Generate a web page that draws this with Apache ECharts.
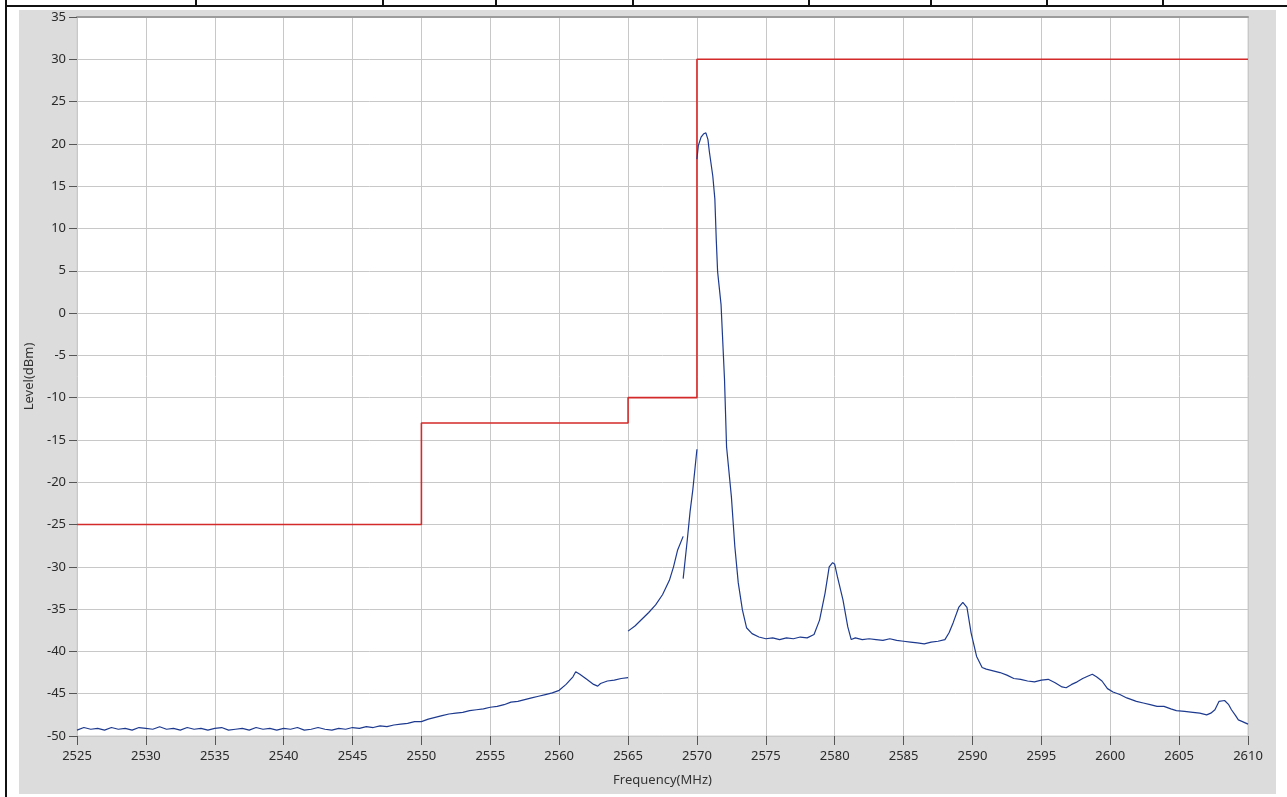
<!DOCTYPE html>
<html>
<head>
<meta charset="utf-8">
<script src="https://cdn.jsdelivr.net/npm/echarts@6/dist/echarts.min.js"></script>
<style>
  html, body { margin: 0; padding: 0; background: #ffffff; }
  #wrap { position: relative; width: 1287px; height: 797px; overflow: hidden; }
  .bk { position: absolute; background: #111; }
  #panel { position: absolute; left: 19px; top: 10px; width: 1257px; height: 784px; background: #dcdcdc; }
  #chart { position: absolute; left: 0; top: 0; width: 1287px; height: 797px; }
</style>
</head>
<body>
<div id="wrap">
  <div id="panel"></div>
  <div class="bk" style="left:5px;top:0;width:2px;height:797px;"></div>
  <div class="bk" style="left:5px;top:5px;width:1282px;height:2px;"></div>
  <div class="bk" style="left:195px;top:0;width:2px;height:6px;"></div>
  <div class="bk" style="left:382px;top:0;width:2px;height:6px;"></div>
  <div class="bk" style="left:495px;top:0;width:2px;height:6px;"></div>
  <div class="bk" style="left:632px;top:0;width:2px;height:6px;"></div>
  <div class="bk" style="left:808px;top:0;width:2px;height:6px;"></div>
  <div class="bk" style="left:930px;top:0;width:2px;height:6px;"></div>
  <div class="bk" style="left:1046px;top:0;width:2px;height:6px;"></div>
  <div class="bk" style="left:1162px;top:0;width:2px;height:6px;"></div>
  <div id="chart"></div>
</div>
<script>
// ---- Data (frequency MHz, level dBm) ----
const xTicks = [2525, 2610, 5];   // min, max, step of the frequency axis
const yTicks = [-50, 35, 5];      // min, max, step of the level axis

// Spectrum limit mask (red)
const maskFreq  = [2525, 2550, 2550, 2565, 2565, 2570, 2570, 2610];
const maskLevel = [-25, -25, -13, -13, -10, -10, 30, 30];

// Measured trace, segment 1: noise floor 2525-2565 MHz
const traceFloor = [
  [2525,-49.3],[2525.5,-49.0],[2526,-49.2],[2526.5,-49.1],[2527,-49.3],[2527.5,-49.0],
  [2528,-49.2],[2528.5,-49.1],[2529,-49.3],[2529.5,-49.0],[2530,-49.1],[2530.5,-49.2],
  [2531,-48.9],[2531.5,-49.2],[2532,-49.1],[2532.5,-49.3],[2533,-49.0],[2533.5,-49.2],
  [2534,-49.1],[2534.5,-49.3],[2535,-49.1],[2535.5,-49.0],[2536,-49.3],[2536.5,-49.2],
  [2537,-49.1],[2537.5,-49.3],[2538,-49.0],[2538.5,-49.2],[2539,-49.1],[2539.5,-49.3],
  [2540,-49.1],[2540.5,-49.2],[2541,-49.0],[2541.5,-49.3],[2542,-49.2],[2542.5,-49.0],
  [2543,-49.2],[2543.5,-49.3],[2544,-49.1],[2544.5,-49.2],[2545,-49.0],[2545.5,-49.1],
  [2546,-48.9],[2546.5,-49.0],[2547,-48.8],[2547.5,-48.9],[2548,-48.7],[2548.5,-48.6],
  [2549,-48.5],[2549.5,-48.3],[2550,-48.3],[2550.5,-48.0],[2551,-47.8],[2551.5,-47.6],
  [2552,-47.4],[2552.5,-47.3],[2553,-47.2],[2553.5,-47.0],[2554,-46.9],[2554.5,-46.8],
  [2555,-46.6],[2555.5,-46.5],[2556,-46.3],[2556.5,-46.0],[2557,-45.9],[2557.5,-45.7],
  [2558,-45.5],[2558.5,-45.3],[2559,-45.1],[2559.5,-44.9],[2560,-44.6],[2560.5,-43.9],
  [2561,-43.0],[2561.2,-42.4],[2561.5,-42.7],[2562,-43.3],[2562.5,-43.9],[2562.8,-44.1],
  [2563,-43.8],[2563.5,-43.5],[2564,-43.4],[2564.5,-43.2],[2565,-43.1]
];

// segment 2: rising skirt 2565-2569 MHz
const traceSkirt = [
  [2565,-37.6],[2565.5,-37.0],[2566,-36.2],[2566.5,-35.4],[2567,-34.5],[2567.5,-33.3],
  [2568,-31.6],[2568.3,-30.0],[2568.6,-28.0],[2569,-26.4]
];

// segment 3: 2569-2570 MHz
const traceEdge = [
  [2569,-31.4],[2569.3,-26.8],[2569.5,-23.5],[2569.7,-20.9],[2570,-16.1]
];

// segment 4: carrier and spurious 2570-2610 MHz
const traceMain = [
  [2570,18.2],[2570.1,19.8],[2570.3,20.8],[2570.5,21.2],[2570.65,21.3],[2570.8,20.5],
  [2570.9,19.1],[2571.15,16.2],[2571.3,13.5],[2571.4,8.8],[2571.5,4.9],[2571.75,1.0],
  [2572,-7.8],[2572.15,-15.8],[2572.5,-21.7],[2572.75,-27.6],[2573,-31.9],[2573.3,-35.1],
  [2573.6,-37.2],[2574,-37.9],[2574.5,-38.3],[2575,-38.5],[2575.5,-38.4],[2576,-38.6],
  [2576.5,-38.4],[2577,-38.5],[2577.5,-38.3],[2578,-38.4],[2578.5,-38.0],[2578.9,-36.3],
  [2579.3,-33.1],[2579.6,-30.0],[2579.85,-29.5],[2580,-29.7],[2580.2,-31.2],[2580.6,-33.9],
  [2580.95,-37.1],[2581.2,-38.6],[2581.5,-38.4],[2582,-38.6],[2582.5,-38.5],[2583,-38.6],
  [2583.5,-38.7],[2584,-38.5],[2584.5,-38.7],[2585,-38.8],[2585.5,-38.9],[2586,-39.0],
  [2586.5,-39.1],[2587,-38.9],[2587.5,-38.8],[2588,-38.6],[2588.3,-37.8],[2588.6,-36.6],
  [2589,-34.8],[2589.3,-34.2],[2589.6,-34.8],[2589.9,-37.8],[2590.3,-40.6],[2590.7,-41.9],
  [2591,-42.1],[2591.5,-42.3],[2592,-42.5],[2592.5,-42.8],[2593,-43.2],[2593.5,-43.3],
  [2594,-43.5],[2594.5,-43.6],[2595,-43.4],[2595.5,-43.3],[2596,-43.7],[2596.5,-44.2],
  [2596.8,-44.3],[2597.2,-43.9],[2597.6,-43.6],[2598,-43.2],[2598.4,-42.9],[2598.7,-42.7],
  [2599,-43.0],[2599.4,-43.5],[2599.8,-44.4],[2600.2,-44.8],[2600.7,-45.1],[2601.2,-45.5],
  [2601.9,-45.9],[2602.4,-46.1],[2602.9,-46.3],[2603.4,-46.5],[2603.9,-46.5],[2604.4,-46.8],
  [2604.8,-47.0],[2605.4,-47.1],[2606,-47.2],[2606.5,-47.3],[2607,-47.5],[2607.3,-47.3],
  [2607.6,-46.9],[2607.9,-45.9],[2608.3,-45.8],[2608.6,-46.3],[2608.8,-46.9],[2609.1,-47.6],
  [2609.3,-48.1],[2609.6,-48.3],[2610,-48.6]
];

const xName = 'Frequency(MHz)';
const yName = 'Level(dBm)';

// ---- Chart ----
const chart = echarts.init(document.getElementById('chart'), null, { renderer: 'canvas' });
const FONT = '"Noto Sans", "DejaVu Sans", sans-serif';
const traceColor = '#1d3a8f';
const traceStyle = { color: traceColor, width: 1.2 };
function traceSeries(data) {
  return { type: 'line', data: data, showSymbol: false, symbol: 'none', lineStyle: traceStyle,
           itemStyle: { color: traceColor }, animation: false, z: 3 };
}
const option = {
  animation: false,
  backgroundColor: 'transparent',
  grid: { left: 77, top: 17, width: 1171, height: 719, show: true, backgroundColor: '#ffffff',
          borderColor: '#d0d0d0', borderWidth: 1 },
  xAxis: [{
    type: 'value', min: xTicks[0], max: xTicks[1], interval: xTicks[2],
    name: xName, nameLocation: 'middle', nameGap: 38,
    nameTextStyle: { fontFamily: FONT, fontSize: 13, color: '#333' },
    axisLine: { show: true, onZero: false, lineStyle: { color: '#c8c8c8' } },
    axisTick: { show: true, length: 9, lineStyle: { color: '#555' } },
    axisLabel: { fontFamily: FONT, fontSize: 13, color: '#2a2a2a', margin: 14,
                 formatter: v => String(v) },
    splitLine: { show: true, lineStyle: { color: '#c8c8c8', width: 1 } }
  }, {
    type: 'value', position: 'top', min: xTicks[0], max: xTicks[1], interval: xTicks[2],
    axisLine: { show: true, onZero: false, lineStyle: { color: '#9c9c9c', width: 2 } },
    axisTick: { show: false }, axisLabel: { show: false }, splitLine: { show: false }
  }],
  yAxis: {
    type: 'value', min: yTicks[0], max: yTicks[1], interval: yTicks[2],
    name: yName, nameLocation: 'middle', nameGap: 40,
    nameTextStyle: { fontFamily: FONT, fontSize: 13, color: '#333' },
    axisLine: { show: false },
    axisTick: { show: true, length: 8, lineStyle: { color: '#555' } },
    axisLabel: { fontFamily: FONT, fontSize: 13, color: '#2a2a2a', margin: 11,
                 formatter: v => String(v) },
    splitLine: { show: true, lineStyle: { color: '#c8c8c8', width: 1 } }
  },
  series: [
    {
      type: 'line', data: maskFreq.map((f, i) => [f, maskLevel[i]]),
      showSymbol: false, symbol: 'none', lineStyle: { color: '#d42a2a', width: 1.6 },
      itemStyle: { color: '#d42a2a' }, animation: false, z: 2
    },
    traceSeries(traceFloor),
    traceSeries(traceSkirt),
    traceSeries(traceEdge),
    traceSeries(traceMain)
  ]
};
chart.setOption(option);
</script>
</body>
</html>
